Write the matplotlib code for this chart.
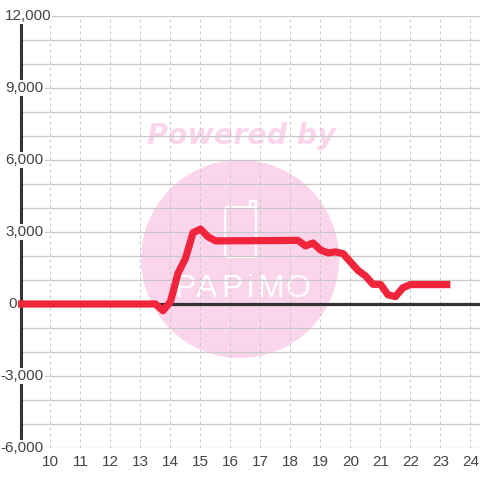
import matplotlib
matplotlib.use("Agg")
import matplotlib.pyplot as plt
from matplotlib.patches import Ellipse, FancyBboxPatch

hours = [8.89, 13.5, 13.75, 14, 14.25, 14.5, 14.75, 15, 15.25, 15.5, 18.25, 18.5, 18.75, 19, 19.25,
         19.5, 19.75, 20, 20.25, 20.5, 20.75, 21, 21.25, 21.5, 21.75, 22, 23.33]
values = [0, 0, -280, 100, 1280, 1900, 2970, 3120, 2800, 2630, 2650, 2420, 2540, 2250, 2130,
          2170, 2100, 1750, 1400, 1170, 820, 820, 380, 310, 680, 810, 810]
x_ticks = list(range(10, 25))
y_ticks = [-6000, -3000, 0, 3000, 6000, 9000, 12000]
y_labels = ["-6,000", "-3,000", "0", "3,000", "6,000", "9,000", "12,000"]
label_right = [9.76, 9.76, 8.87, 9.76, 9.76, 9.76, 10.02]

plt.rcParams['font.family'] = ['Liberation Sans', 'DejaVu Sans']
GRID = "#c8c8c8"
INK = "#333333"
PINK = "#fbd5ec"

fig = plt.figure(figsize=(4.8, 4.8), dpi=100)
ax = fig.add_axes([20.5 / 480, 32 / 480, 459.5 / 480, 432 / 480])
ax.set_xlim(9, 24.317)
ax.set_ylim(-6000, 12000)

# grid
ax.set_yticks(range(-6000, 12001, 1000))
ax.set_xticks(x_ticks)
ax.grid(axis="y", color=GRID, lw=0.9, zorder=1)
ax.grid(axis="x", color=GRID, lw=0.72, ls=(0, (3, 3)), zorder=1)
ax.tick_params(length=0, labelleft=False, labelbottom=False)
for s in ["top", "right", "bottom"]:
    ax.spines[s].set_visible(False)
ax.spines["left"].set_linewidth(2.2)
ax.spines["left"].set_color(INK)

# watermark
ax.add_patch(Ellipse((16.32, 1875), 6.6, 8250, color=PINK, lw=0, zorder=0))
ax.add_patch(FancyBboxPatch((15.82, 1960), 1.03, 2080, boxstyle="round,pad=0,rounding_size=0.1",
                            fc="none", ec="white", lw=1.7, mutation_aspect=1250, zorder=0.5))
ax.plot([16.66, 16.66, 16.85, 16.85], [4040, 4300, 4300, 3900], color="white", lw=1.7, zorder=0.5)
for px, ch in zip([185, 207, 232, 250, 271, 298], "PAPiMO"):
    ax.text(10 + (px - 50.5) / 30, 625, ch, color="white", fontsize=23, ha="center", va="center",
            family=["Liberation Sans Narrow", "Liberation Sans"], zorder=0.5)
ax.text(16.36, 7000, "Powered by", color=PINK, fontsize=20.5, weight="bold", style="italic",
        family=["DejaVu Sans"], ha="center", va="center", zorder=0.5)

# series
ax.axhline(0, color=INK, lw=2.3, zorder=2)
ax.plot(hours, values, color="#f0243a", lw=5.2, solid_joinstyle="round", solid_capstyle="butt",
        zorder=3, clip_on=False)

# tick labels sit on white boxes, they cut the grid and the axis line
box = dict(fc="white", ec="none", pad=1.0)
for v, lab, x in zip(y_ticks, y_labels, label_right):
    ax.text(x, v, lab, ha="right", va="center", fontsize=11, color="#444444", bbox=box, zorder=4, clip_on=False)
for h in x_ticks:
    ax.text(h, -6300, str(h), ha="center", va="top", fontsize=11, color="#444444",
            bbox=box, zorder=4, clip_on=False)

fig.savefig("out.png", dpi=100)
